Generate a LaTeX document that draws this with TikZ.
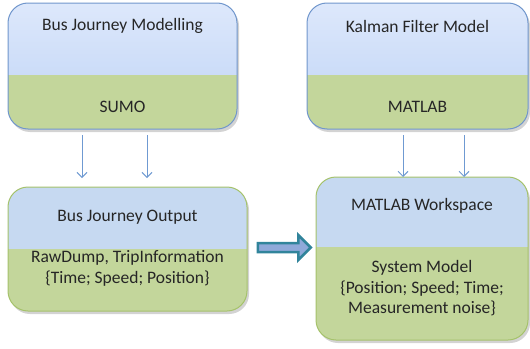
\documentclass[tikz,border=0pt]{standalone}
\usepackage{fontspec}
\setmainfont{Carlito}
\usetikzlibrary{calc,shadows,shapes.arrows,arrows.meta}

\definecolor{skyhi}{HTML}{DDE8FB}
\definecolor{skylo}{HTML}{BED3F6}
\definecolor{skyflat}{HTML}{C6D9F1}
\definecolor{leaf}{HTML}{C3D69B}
\definecolor{blueline}{HTML}{7096CC}
\definecolor{greenline}{HTML}{A5C26B}
\definecolor{feedblue}{HTML}{6F9AD2}
\definecolor{tealline}{HTML}{31849B}
\definecolor{lavender}{HTML}{8FA9D9}

\tikzset{
  stage/.style={draw=blueline, line width=1pt, rounded corners=20pt, inner sep=0pt,
    drop shadow={opacity=0.35, shadow xshift=2pt, shadow yshift=-3pt},
    path picture={
      \shade[sharp corners, top color=skyhi, bottom color=skylo]
        (path picture bounding box.north west) rectangle
        ($(path picture bounding box.north east)!#1!(path picture bounding box.south east)$);
      \fill[sharp corners, leaf]
        ($(path picture bounding box.north west)!#1!(path picture bounding box.south west)$)
        rectangle (path picture bounding box.south east);
    }},
  result/.style={draw=greenline, line width=1pt, rounded corners=20pt, inner sep=0pt,
    drop shadow={opacity=0.35, shadow xshift=2pt, shadow yshift=-3pt},
    path picture={
      \fill[sharp corners, skyflat]
        (path picture bounding box.north west) rectangle
        ($(path picture bounding box.north east)!#1!(path picture bounding box.south east)$);
      \fill[sharp corners, leaf]
        ($(path picture bounding box.north west)!#1!(path picture bounding box.south west)$)
        rectangle (path picture bounding box.south east);
    }},
  txt/.style={font=\fontsize{17.5}{20.5}\selectfont, text=black!85, align=center, inner sep=0pt},
  feed/.style={draw=feedblue, line width=1pt, -{Straight Barb[length=5pt,width=10pt]}},
}

\begin{document}
\begin{tikzpicture}[x=1pt,y=-1pt]
    \useasboundingbox (0,0) rectangle (530,348);
    % upper row
    \node[stage=0.571, minimum width=229pt, minimum height=126pt] (bjm) at (122.5,66) {};
    \node[stage=0.571, minimum width=221pt, minimum height=126pt] (kfm) at (417.5,66) {};
    \node[txt] (bjmtitle) at (122.5,26) {Bus Journey Modelling};
    \node[txt] (sumo) at (122.5,107) {SUMO};
    \node[txt] (kfmtitle) at (417.5,26) {Kalman Filter Model};
    \node[txt] (matlab) at (417.5,107) {MATLAB};

    % lower row
    \node[result=0.5, minimum width=239pt, minimum height=124pt] (bjo) at (127.5,249) {};
    \node[result=0.43, minimum width=212pt, minimum height=163pt] (mws) at (422,258.5) {};
    \node[txt] (bjotitle) at (127.5,217) {Bus Journey Output};
    \node[txt] (bjodata) at (127.5,268.5) {RawDump, TripInformation\\\{Time; Speed; Position\}};
    \node[txt] (mwstitle) at (422,206) {MATLAB Workspace};
    \node[txt] (mwsdata) at (422,288.5) {System Model\\\{Position; Speed; Time;\\Measurement noise\}};

    % feeds
    \draw[feed] (82,135) -- (82,178);
    \draw[feed] (147,135) -- (147,178);
    \draw[feed] (403,135) -- (403,177);
    \draw[feed] (464,135) -- (464,177);

    % hand over
    \node[single arrow, draw=tealline, line width=2.5pt, fill=lavender,
          minimum width=25pt, single arrow head extend=4pt, minimum height=53pt,
          inner sep=1pt] (handover) at (282,247.5) {};
\end{tikzpicture}
\end{document}
